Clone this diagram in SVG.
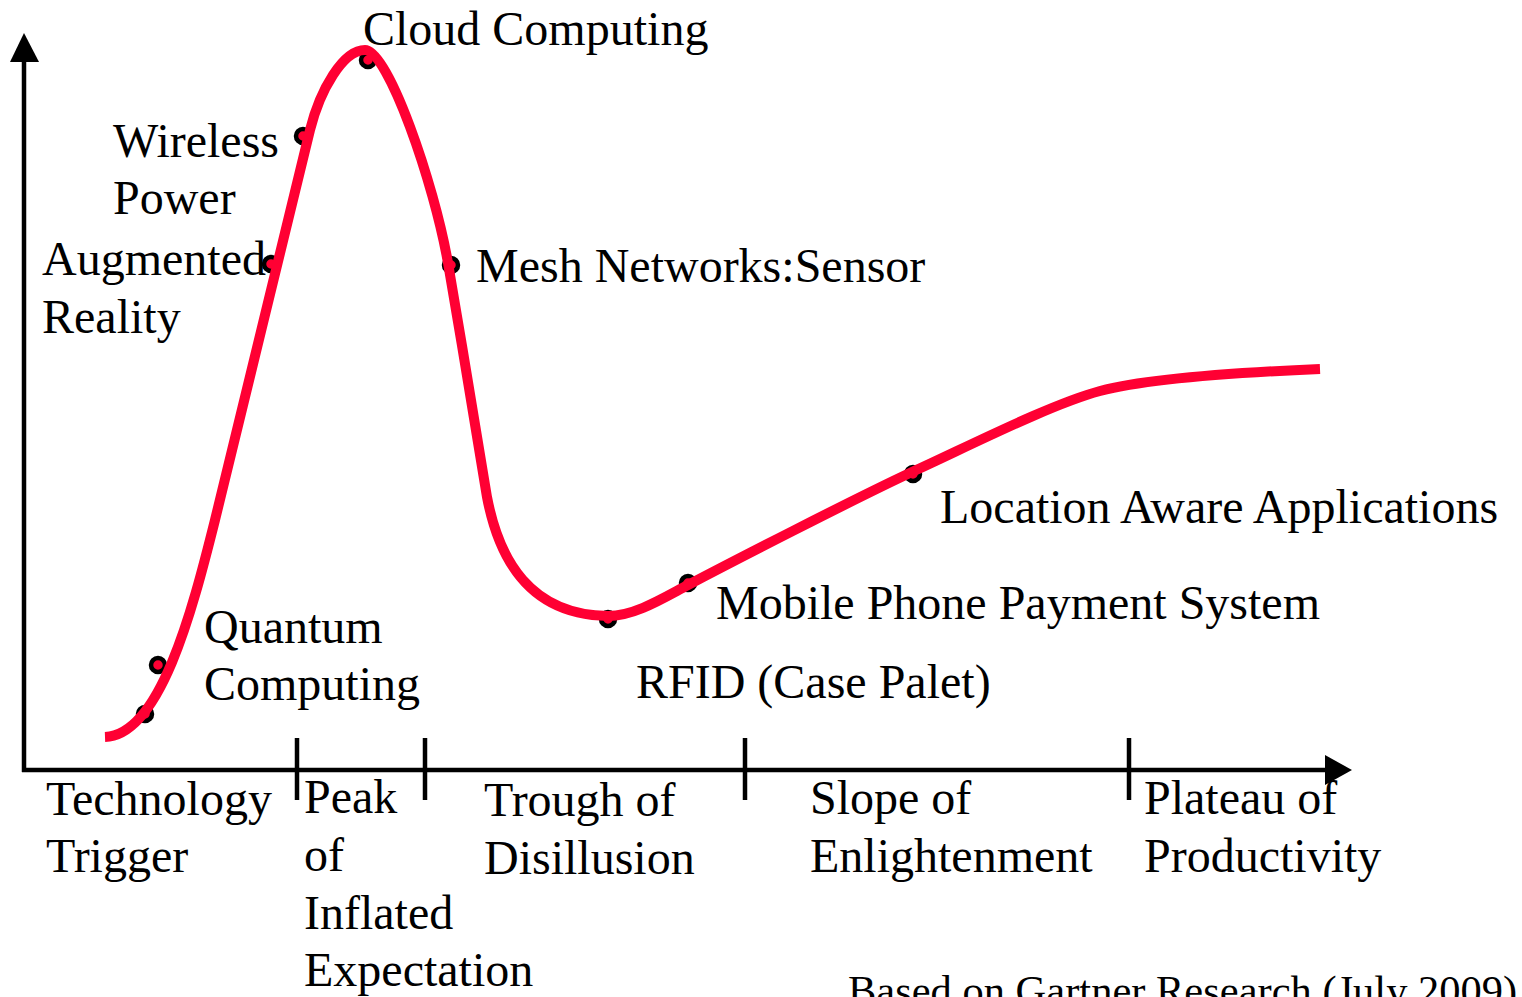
<svg xmlns="http://www.w3.org/2000/svg" width="1522" height="997" viewBox="0 0 1522 997">
<style>
text{font-family:"Liberation Serif","Times New Roman",serif;font-size:48px;fill:#000}
.note{font-size:42.5px}
.axis{stroke:#000;stroke-width:4.5;fill:none}
.tick{stroke:#000;stroke-width:4.5}
.curve{stroke:#FF0033;stroke-width:10;fill:none}
.dot{fill:#FF0033;stroke:#000;stroke-width:4.5}
</style>
<rect width="1522" height="997" fill="#fff"/>
<g id="markers">
<circle class="dot" cx="368" cy="60" r="7"/>
<circle class="dot" cx="303" cy="136" r="7"/>
<circle class="dot" cx="271" cy="264" r="7"/>
<circle class="dot" cx="451" cy="265" r="7"/>
<circle class="dot" cx="158" cy="665" r="7"/>
<circle class="dot" cx="145" cy="714" r="7"/>
<circle class="dot" cx="608" cy="619" r="7"/>
<circle class="dot" cx="688" cy="583" r="7"/>
<circle class="dot" cx="913" cy="474" r="7"/>
</g>
<g id="connectors">
<line class="axis" x1="24" y1="60" x2="24" y2="772"/>
<polygon points="24,33 10,62 39,62" fill="#000"/>
<line class="axis" x1="22" y1="770" x2="1328" y2="770"/>
<polygon points="1352,770 1325,755 1325,785" fill="#000"/>
<line class="tick" x1="297" y1="738" x2="297" y2="800"/>
<line class="tick" x1="425" y1="738" x2="425" y2="800"/>
<line class="tick" x1="745" y1="738" x2="745" y2="800"/>
<line class="tick" x1="1129" y1="738" x2="1129" y2="800"/>
<path class="curve" d="M105,737 C160,735 192,612 215,520 C238,428 290,210 310,130 C320,90 343,50 365,50 C388,50 434,183 448,263 C462,343 480,457 487,497 C499,560 530,615 608,616 C635,616 665,597 688,585 C728,564 852,500 912,472 C967,447 1050,404.5 1100,391 C1150,378 1250,372 1320,369"/>
</g>
<g id="node-cloud"><text x="363" y="45">Cloud Computing</text></g>
<g id="node-wireless"><text x="113" y="157">Wireless</text><text x="113" y="214">Power</text></g>
<g id="node-ar"><text x="42" y="275">Augmented</text><text x="42" y="333">Reality</text></g>
<g id="node-mesh"><text x="476" y="282">Mesh Networks:Sensor</text></g>
<g id="node-quantum"><text x="204" y="643">Quantum</text><text x="204" y="700">Computing</text></g>
<g id="node-rfid"><text x="636" y="698">RFID (Case Palet)</text></g>
<g id="node-mobile"><text x="716" y="619">Mobile Phone Payment System</text></g>
<g id="node-location"><text x="940" y="523">Location Aware Applications</text></g>
<g id="phase-trigger"><text x="46" y="815">Technology</text><text x="46" y="872">Trigger</text></g>
<g id="phase-peak"><text x="304" y="813">Peak</text><text x="304" y="871">of</text><text x="304" y="929">Inflated</text><text x="304" y="986">Expectation</text></g>
<g id="phase-trough"><text x="484" y="816">Trough of</text><text x="484" y="874">Disillusion</text></g>
<g id="phase-slope"><text x="810" y="814">Slope of</text><text x="810" y="872">Enlightenment</text></g>
<g id="phase-plateau"><text x="1144" y="814">Plateau of</text><text x="1144" y="872">Productivity</text></g>
<g id="note"><text class="note" x="848" y="1005">Based on Gartner Research (July 2009)</text></g>
</svg>
